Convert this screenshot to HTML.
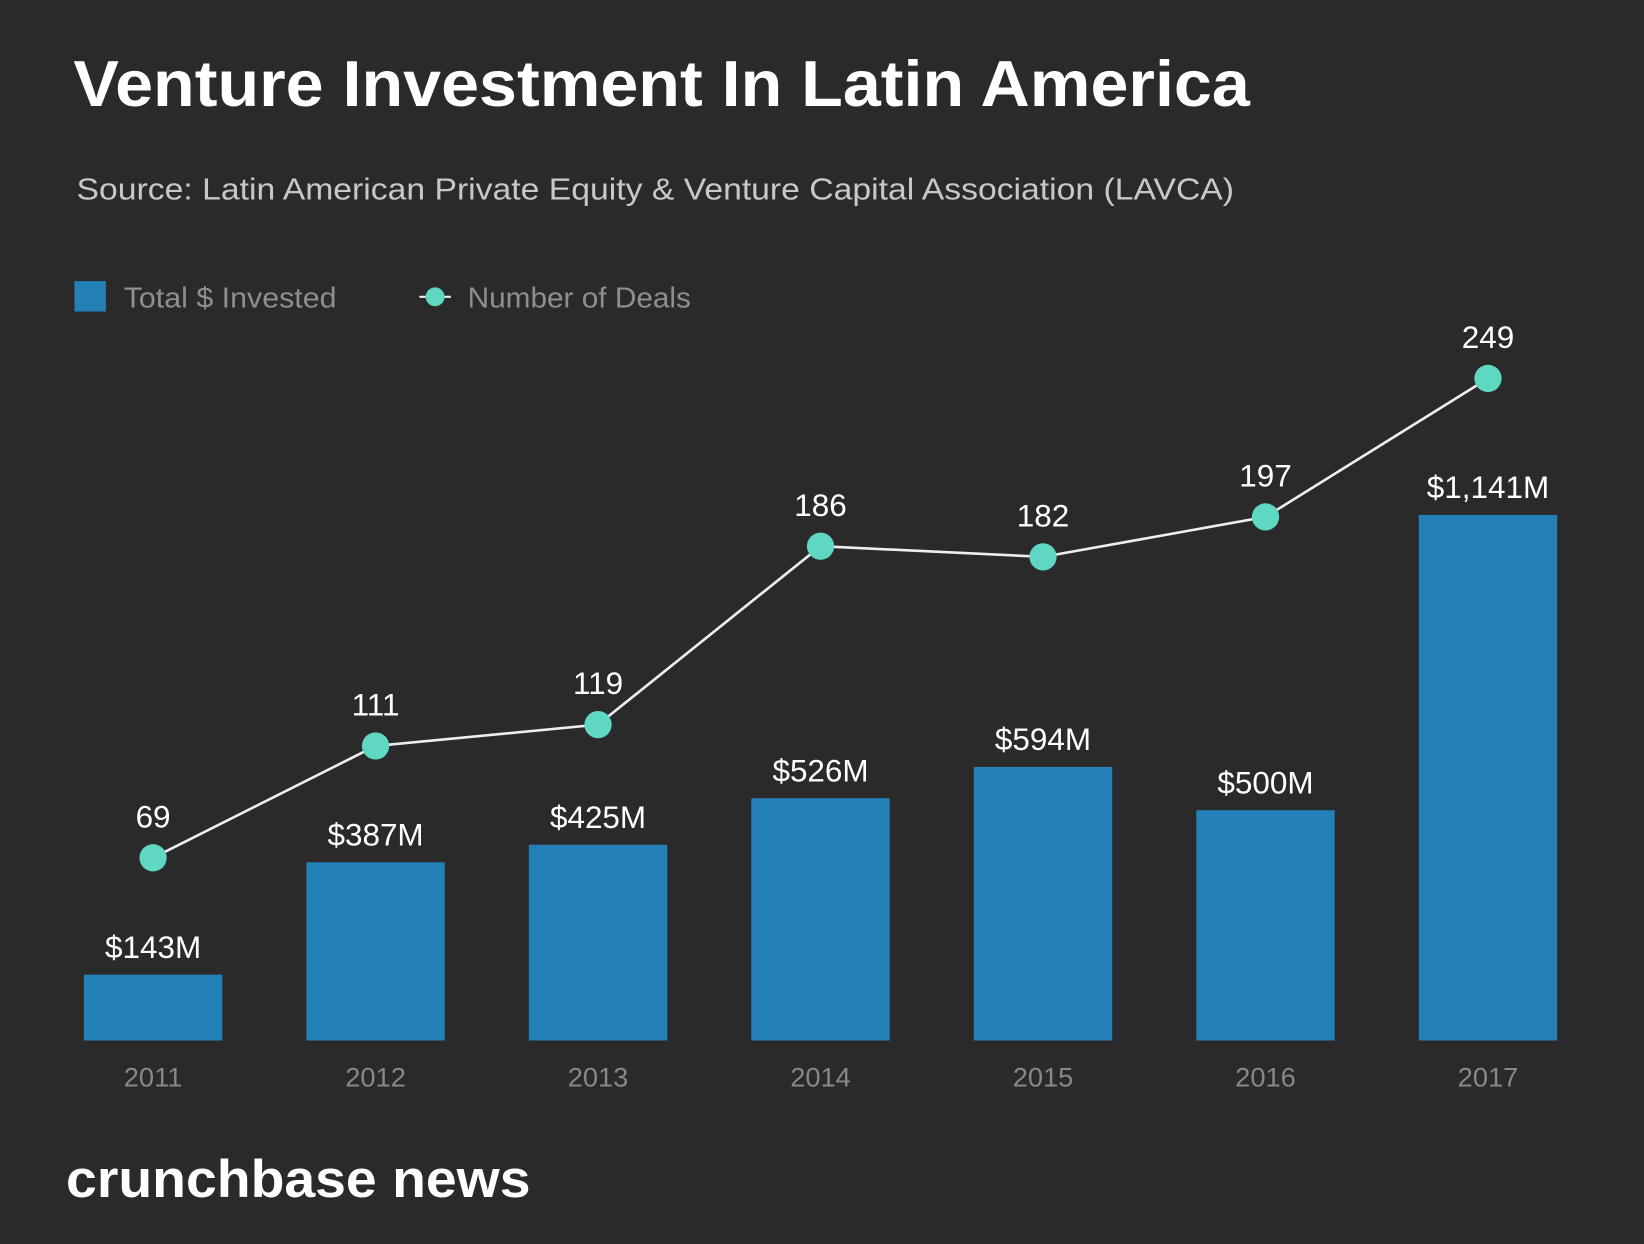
<!DOCTYPE html>
<html><head><meta charset="utf-8"><style>
html,body{margin:0;padding:0;background:#2a2a2a;}
svg{display:block;font-family:"Liberation Sans",sans-serif;}
</style></head><body>
<svg id="chart" width="1644" height="1244" viewBox="0 0 1568 1186" preserveAspectRatio="none" xmlns="http://www.w3.org/2000/svg">
<rect width="1568" height="1186" fill="#2a2a2a"/>
<text x="70" y="101" fill="#fff" font-size="62" font-weight="bold" textLength="1122" lengthAdjust="spacingAndGlyphs">Venture Investment In Latin America</text>
<text x="73" y="190" fill="#c8c8c8" font-size="29" textLength="1104" lengthAdjust="spacingAndGlyphs">Source: Latin American Private Equity &amp; Venture Capital Association (LAVCA)</text>
<g>
<rect x="71" y="268" width="30" height="29" fill="#2481b8"/>
<text x="118" y="293" fill="#8f8f8f" font-size="27" textLength="203" lengthAdjust="spacingAndGlyphs">Total $ Invested</text>
<line x1="400" y1="283" x2="430" y2="283" stroke="#eee" stroke-width="2"/>
<circle cx="415" cy="283" r="9" fill="#5fd8c3"/>
<text x="446" y="293" fill="#8f8f8f" font-size="27" textLength="213" lengthAdjust="spacingAndGlyphs">Number of Deals</text>
</g>
<g id="plot"></g>
<text x="63" y="1141" fill="#fff" font-size="50" font-weight="bold" textLength="443" lengthAdjust="spacingAndGlyphs">crunchbase news</text>
</svg>
<script>
const years = ["2011","2012","2013","2014","2015","2016","2017"];
const invested = [143,387,425,526,594,500,1141];
const investedLabels = ["$143M","$387M","$425M","$526M","$594M","$500M","$1,141M"];
const deals = [69,111,119,186,182,197,249];

const NS="http://www.w3.org/2000/svg";
const g=document.getElementById('plot');
const base=992, x0=146, step=212.2, barW=132;
const xPos=i=>x0+i*step;
const yBar=v=>base-v*0.4391;
const yDeal=v=>993-v*2.539;
function mk(t,a){const e=document.createElementNS(NS,t);for(const k in a)e.setAttribute(k,a[k]);g.appendChild(e);return e;}
years.forEach((y,i)=>{
  const top=yBar(invested[i]);
  const r=mk('rect',{x:xPos(i)-barW/2,y:top,width:barW,height:base-top,fill:'#2481b8'});
  
  
  const t=mk('text',{x:xPos(i),y:top-16,fill:'#fff','font-size':30,'text-anchor':'middle'});
  t.textContent=investedLabels[i];
  
  
  const yl=mk('text',{x:xPos(i),y:1036,fill:'#888','font-size':26,'text-anchor':'middle'});
  yl.textContent=y;
  
  
});
const pts=deals.map((d,i)=>xPos(i)+','+yDeal(d)).join(' ');
const pl=mk('polyline',{points:pts,fill:'none',stroke:'#eee','stroke-width':2.5});


deals.forEach((d,i)=>{
  const c=mk('circle',{cx:xPos(i),cy:yDeal(d),r:13,fill:'#5fd8c3'});
  
  
  const t=mk('text',{x:xPos(i),y:yDeal(d)-29,fill:'#fff','font-size':30,'text-anchor':'middle'});
  t.textContent=d;
  
  
});
</script>
</body></html>
